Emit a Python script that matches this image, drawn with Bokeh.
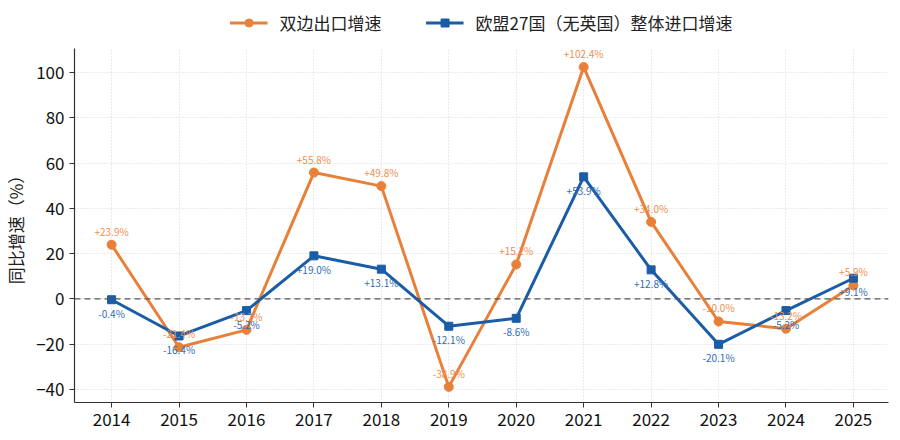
from bokeh.plotting import figure
from bokeh.layouts import column
from bokeh.models import ColumnDataSource, Legend, LegendItem, FixedTicker, Span
from bokeh.core.properties import value
from bokeh.embed import file_html
from bokeh.resources import INLINE

years = [2014, 2015, 2016, 2017, 2018, 2019, 2020, 2021, 2022, 2023, 2024, 2025]
export_growth = [23.9, -21.4, -13.7, 55.8, 49.8, -38.9, 15.2, 102.4, 34.0, -10.0, -13.2, 5.9]
eu_import_growth = [-0.4, -16.4, -5.2, 19.0, 13.1, -12.1, -8.6, 53.9, 12.8, -20.1, -5.2, 9.1]
series_names = ["双边出口增速", "欧盟27国（无英国）整体进口增速"]
y_ticks = [-40, -20, 0, 20, 40, 60, 80, 100]

def fmt(v):
    return ("+" if v > 0 else "") + f"{v:.1f}%"

FONT = "Noto Sans CJK SC"
ORANGE = "#E8803A"
BLUE = "#1A5DA6"
W = 890
LEFT = 68
RIGHT = 2

src_o = ColumnDataSource(dict(x=years, y=export_growth, lab=[fmt(v) for v in export_growth]))
src_b = ColumnDataSource(dict(x=years, y=eu_import_growth, lab=[fmt(v) for v in eu_import_growth]))

# ---- legend strip (dummy off-range points so legend glyphs draw) ----
lg = figure(width=W, height=44, output_backend="svg", toolbar_location=None,
            x_range=(0, 1), y_range=(0, 1), x_axis_type=None, y_axis_type=None,
            min_border_left=LEFT, min_border_right=RIGHT, min_border_top=0, min_border_bottom=0)
lg.outline_line_color = None
lg.xgrid.visible = False
lg.ygrid.visible = False
g_lo = lg.line(x=[-5, -4], y=[-5, -4], line_color=ORANGE, line_width=3)
g_so = lg.scatter(x=[-5], y=[-5], marker="circle", size=9, fill_color=ORANGE, line_color=ORANGE)
g_lb = lg.line(x=[-5, -4], y=[-5, -4], line_color=BLUE, line_width=3)
g_sb = lg.scatter(x=[-5], y=[-5], marker="square", size=8, fill_color=BLUE, line_color=BLUE)
legend = Legend(items=[LegendItem(label=series_names[0], renderers=[g_lo, g_so]),
                       LegendItem(label=series_names[1], renderers=[g_lb, g_sb])],
                orientation="horizontal", location="center",
                label_text_font=FONT, label_text_font_size="17px", label_text_color="#222222",
                border_line_color=None, background_fill_alpha=0,
                glyph_width=38, label_standoff=12, spacing=44, padding=0, margin=0)
lg.add_layout(legend)

# ---- main chart ----
p = figure(width=W, height=387, output_backend="svg", toolbar_location=None,
           x_range=(2013.45, 2025.52), y_range=(-45.8, 110.6),
           min_border_left=LEFT, min_border_right=RIGHT, min_border_bottom=29, min_border_top=4)
p.outline_line_color = None
p.background_fill_color = "white"

zero = Span(location=0, dimension="width", line_color="#555555", line_dash="6 4", line_width=1.2)
p.add_layout(zero)

p.line("x", "y", source=src_o, line_color=ORANGE, line_width=3)
p.scatter("x", "y", source=src_o, marker="circle", size=9, fill_color=ORANGE, line_color=ORANGE)
p.line("x", "y", source=src_b, line_color=BLUE, line_width=3)
p.scatter("x", "y", source=src_b, marker="square", size=8, fill_color=BLUE, line_color=BLUE)

p.text("x", "y", text="lab", source=src_o, text_color="#EE8F4F", text_font=value(FONT),
       text_font_size="10px", text_align="center", text_baseline="bottom", y_offset=-6)
p.text("x", "y", text="lab", source=src_b, text_color="#2F6DB3", text_font=value(FONT),
       text_font_size="10px", text_align="center", text_baseline="top", y_offset=6)

p.xaxis.ticker = FixedTicker(ticks=years)
p.yaxis.ticker = FixedTicker(ticks=y_ticks)
p.yaxis.major_label_overrides = {t: (str(t).replace("-", "\u2212")) for t in y_ticks}
for ax in (p.xaxis, p.yaxis):
    ax.major_label_text_font = FONT
    ax.major_label_text_font_size = "17px"
    ax.major_label_text_color = "#111111"
    ax.axis_line_color = "#333333"
    ax.axis_line_width = 1.2
    ax.major_tick_line_color = "#333333"
    ax.major_tick_in = 0
    ax.major_tick_out = 5
    ax.minor_tick_line_color = None
p.yaxis.axis_label = "同比增速（%）"
p.yaxis.axis_label_text_font = FONT
p.yaxis.axis_label_text_font_size = "17px"
p.yaxis.axis_label_text_font_style = "normal"
p.yaxis.axis_label_text_color = "#222222"

p.xgrid.grid_line_color = "#cccccc"
p.ygrid.grid_line_color = "#cccccc"
p.xgrid.grid_line_dash = "1 2"
p.ygrid.grid_line_dash = "1 2"
p.xgrid.grid_line_width = 0.8
p.ygrid.grid_line_width = 0.8

layout = column(lg, p, spacing=0)
open("out.html", "w").write(file_html(layout, INLINE))
